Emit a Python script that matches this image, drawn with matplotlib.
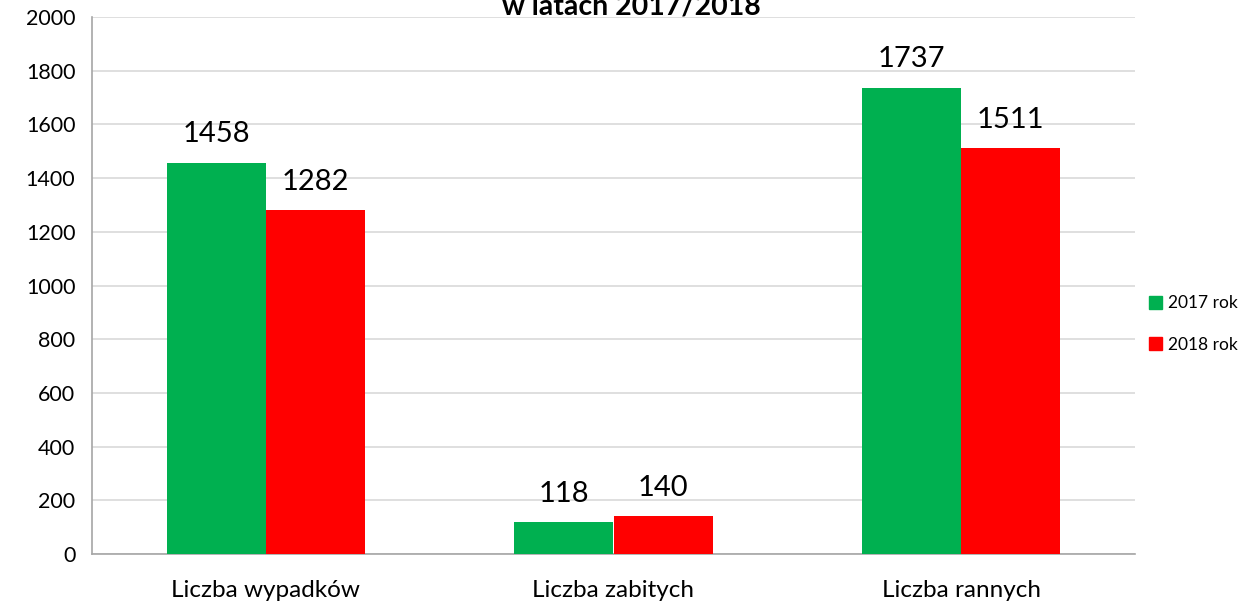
import matplotlib.pyplot as plt
import numpy as np
from matplotlib.patches import Patch

plt.rcParams['font.family'] = ['Lato', 'DejaVu Sans']

categories = ['Liczba wypadków', 'Liczba zabitych', 'Liczba rannych']
rok_2017 = [1458, 118, 1737]
rok_2018 = [1282, 140, 1511]
series_names = ['2017 rok', '2018 rok']
colors = ['#00B050', '#FF0000']

fig = plt.figure(figsize=(12.44, 6.03), dpi=100)
ax = fig.add_axes([92 / 1244, 1 - 554 / 603, (1135 - 92) / 1244, (554 - 17) / 603])

x = np.arange(len(categories))
w = 0.285
b1 = ax.bar(x - w / 2, rok_2017, w, color=colors[0], zorder=3)
b2 = ax.bar(x + w / 2, rok_2018, w, color=colors[1], zorder=3)

for bars in (b1, b2):
    for bar in bars:
        ax.annotate(str(int(bar.get_height())),
                    (bar.get_x() + bar.get_width() / 2, bar.get_height()),
                    xytext=(0, 11), textcoords='offset points',
                    ha='center', va='bottom', fontsize=21)

ax.set_xlim(-0.5, 2.5)
ax.set_ylim(0, 2000)
ax.set_yticks(range(0, 2001, 200))
ax.set_xticks(x)
ax.set_xticklabels(categories, fontsize=17.5)
ax.tick_params(axis='y', labelsize=15.5, length=0, pad=12)
ax.tick_params(axis='x', length=0, pad=19)
ax.grid(axis='y', color='#D9D9D9', linewidth=1.2, zorder=0)
for s in ('top', 'right'):
    ax.spines[s].set_visible(False)
for s in ('left', 'bottom'):
    ax.spines[s].set_color('#A6A6A6')
    ax.spines[s].set_linewidth(1.2)

handles = [Patch(color=c) for c in colors]
fig.legend(handles, series_names, loc='center left',
           bbox_to_anchor=(1149 / 1244, 1 - 324 / 603), frameon=False,
           fontsize=12.5, handlelength=0.75, handleheight=0.75,
           handletextpad=0.35, labelspacing=1.45, borderpad=0,
           borderaxespad=0)

fig.text(631 / 1244, 1 - 15 / 603, 'w latach 2017/2018', ha='center',
         va='baseline', fontsize=20.5, fontweight='bold')

fig.savefig('out.png', dpi=100)
